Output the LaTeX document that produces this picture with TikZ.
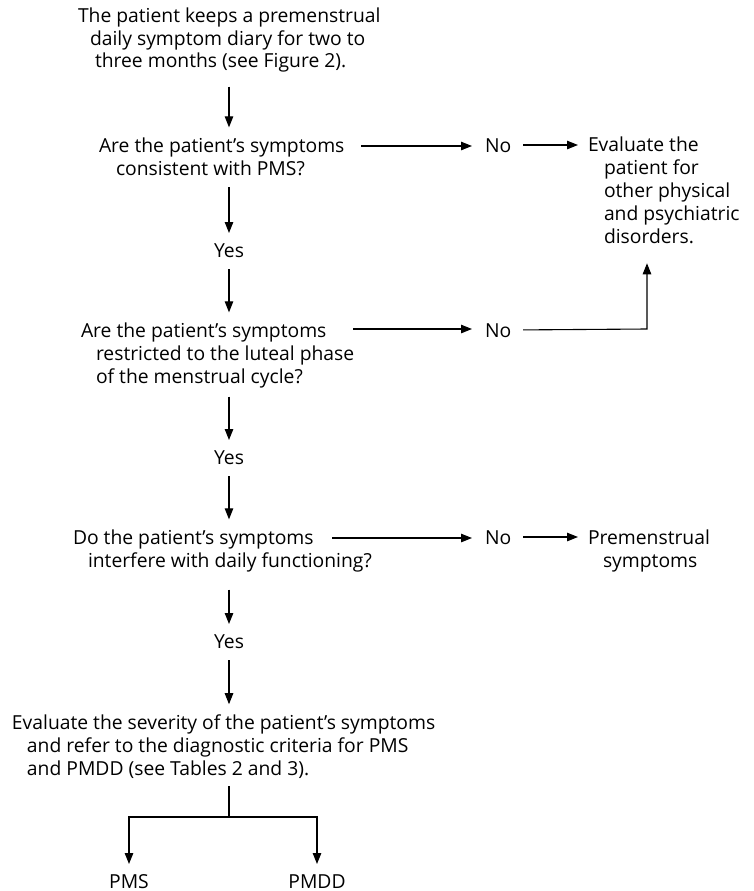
\documentclass[tikz,border=0pt]{standalone}
\usepackage{fontspec}
\setmainfont{Open Sans}
\usetikzlibrary{arrows.meta}

\tikzset{
  txt/.style={inner sep=0pt, outer sep=0pt, align=left, anchor=base west, font=\fontsize{19.3}{23}\selectfont},
  lbl/.style={inner sep=0pt, outer sep=0pt, text height=14pt, text depth=0pt, font=\fontsize{19.3}{23}\selectfont},
  flow/.style={-{Triangle[length=11pt,width=8.5pt]}, line width=1.1pt, shorten <=12pt, shorten >=10pt},
  link/.style={line width=1.1pt}
}

\begin{document}
\begin{tikzpicture}[x=1pt,y=-1pt]
  \useasboundingbox (0,0) rectangle (753,891);
  \node[txt, font=\fontsize{19.3}{22}\selectfont] (diary) at (78,67) {The patient keeps a premenstrual\\\hspace*{12pt}daily symptom diary for two to\\\hspace*{17pt}three months (see Figure 2).};
  \node[txt] (q1) at (99,175) {Are the patient’s symptoms\\\hspace*{17pt}consistent with PMS?};
  \node[txt] (q2) at (81,383) {Are the patient’s symptoms\\\hspace*{15pt}restricted to the luteal phase\\\hspace*{15pt}of the menstrual cycle?};
  \node[txt] (q3) at (73,567) {Do the patient’s symptoms\\\hspace*{15pt}interfere with daily functioning?};
  \node[txt] (sev) at (12,775) {Evaluate the severity of the patient’s symptoms\\\hspace*{15pt}and refer to the diagnostic criteria for PMS\\\hspace*{15pt}and PMDD (see Tables 2 and 3).};
  \node[txt] (eval) at (588,243) {Evaluate the\\\hspace*{16pt}patient for\\\hspace*{16pt}other physical\\\hspace*{16pt}and psychiatric\\\hspace*{16pt}disorders.};
  \node[txt] (prem) at (588,567) {Premenstrual\\\hspace*{15pt}symptoms};
  \node[lbl,anchor=base] (yes1) at (229,257) {Yes};
  \node[lbl,anchor=base] (yes2) at (229,464) {Yes};
  \node[lbl,anchor=base] (yes3) at (229,648) {Yes};
  \node[lbl,anchor=base west] (no1) at (485,152) {No};
  \node[lbl,anchor=base west] (no2) at (485,337) {No};
  \node[lbl,anchor=base west] (no3) at (485,544) {No};
  \node[lbl,anchor=base] (pms) at (129,888) {PMS};
  \node[lbl,anchor=base] (pmdd) at (317,888) {PMDD};
  \coordinate (q1r) at (361,146);
  \coordinate (q2r) at (353,329);
  \coordinate (q3r) at (332,538);
  \coordinate (bend) at (647,329);
  \coordinate (split) at (229,817);

  \draw[flow, shorten <=15pt] (diary.south -| yes1) -- (q1.north -| yes1);
  \draw[flow] (q1.south -| yes1) -- (yes1.north);
  \draw[flow] (yes1.south) -- (q2.north -| yes1);
  \draw[flow, shorten <=9pt] (q2.south -| yes2) -- (yes2.north);
  \draw[flow] (yes2.south) -- (q3.north -| yes2);
  \draw[flow, shorten <=18pt] (q3.south -| yes3) -- (yes3.north);
  \draw[flow] (yes3.south) -- (sev.north -| yes3);

  \draw[flow, shorten <=0pt, shorten >=13pt] (q1r) -- (q1r -| no1.west);
  \draw[flow] (no1.east) -- (no1.east -| eval.west);
  \draw[flow, shorten <=0pt, shorten >=13pt] (q2r) -- (q2r -| no2.west);
  \draw[flow, shorten >=20pt] (no2.east) -- (bend) -- (bend |- eval.south);
  \draw[flow, shorten <=0pt, shorten >=13pt] (q3r) -- (q3r -| no3.west);
  \draw[flow] (no3.east) -- (no3.east -| prem.west);

  \draw[link, shorten <=8pt] (sev.south -| split) -- (split);
  \draw[flow, shorten <=0pt] (split) -| (pms.north);
  \draw[flow, shorten <=0pt] (split) -| (pmdd.north);
  \draw[line width=2.4pt] ([xshift=-26pt]split) -- ([xshift=12pt]split);
\end{tikzpicture}
\end{document}
